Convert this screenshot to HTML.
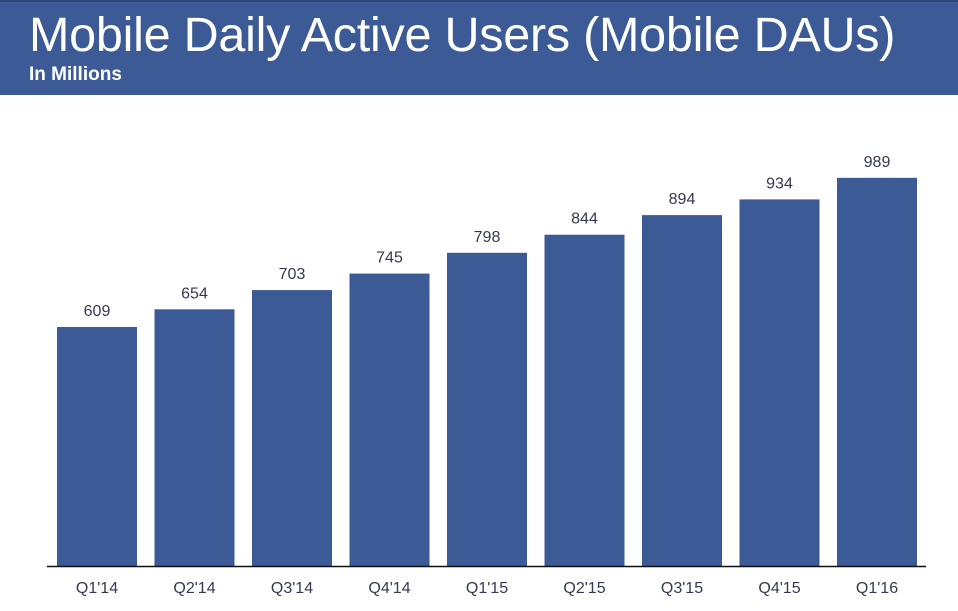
<!DOCTYPE html>
<html><head><meta charset="utf-8"><style>
body{margin:0;width:958px;height:611px;background:#fff;font-family:"Liberation Sans",sans-serif;overflow:hidden;position:relative}
#hdr{position:absolute;left:0;top:0;width:958px;height:95px;background:#3c5a96;border-top:2px solid #2e4677;box-sizing:border-box}
#title{position:absolute;left:29px;top:5px;font-size:48.5px;color:#fff;white-space:nowrap;letter-spacing:-0.25px}
#sub{position:absolute;left:29px;top:62px;font-size:19px;font-weight:bold;color:#fff}
svg{position:absolute;left:0;top:0}
</style></head><body>
<div id="hdr">
<div id="title">Mobile Daily Active Users (Mobile DAUs)</div>
<div id="sub">In Millions</div>
</div>
<svg id="chart" width="958" height="611"></svg>
<script>
const categories=["Q1'14","Q2'14","Q3'14","Q4'14","Q1'15","Q2'15","Q3'15","Q4'15","Q1'16"];
const values=[609,654,703,745,798,844,894,934,989];
const valueLabels=["609","654","703","745","798","844","894","934","989"];
const svg=document.getElementById('chart');
const NS='http://www.w3.org/2000/svg';
const baseY=566, pxPerUnit=0.3925, x0=57, step=97.5, bw=80;
const y=v=>baseY-v*pxPerUnit;
const x=i=>x0+i*step;
function mk(t,a){const e=document.createElementNS(NS,t);for(const k in a)e.setAttribute(k,a[k]);svg.appendChild(e);return e;}
values.forEach((v,i)=>{
  const r=mk('rect',{x:x(i),y:y(v),width:bw,height:baseY-y(v),fill:'#3c5a96'});
  
  
  const t=mk('text',{x:x(i)+bw/2,y:y(v)-11,'text-anchor':'middle','font-size':'16','fill':'#333a4d'});
  t.textContent=valueLabels[i];
  
  
  const c=mk('text',{x:x(i)+bw/2,y:593,'text-anchor':'middle','font-size':'16','fill':'#333a4d'});
  c.textContent=categories[i];
  
  
});
const ax=mk('line',{x1:47,x2:926,y1:baseY+0.5,y2:baseY+0.5,stroke:'#111','stroke-width':1.5});


</script>
</body></html>
